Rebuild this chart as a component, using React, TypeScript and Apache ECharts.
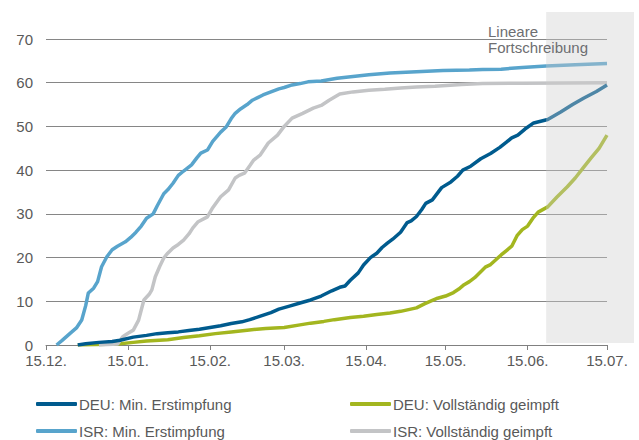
import React, { useEffect, useRef } from "react";
import * as echarts from "echarts";

// x values are days after 15.12.2020
const tickDays = [0, 31, 62, 90, 121, 151, 182, 212];
const tickLabels = ["15.12.", "15.01.", "15.02.", "15.03.", "15.04.", "15.05.", "15.06.", "15.07."];
const projectionStartDay = 189;

const seriesNames = [
  "DEU: Min. Erstimpfung",
  "ISR: Min. Erstimpfung",
  "DEU: Vollständig geimpft",
  "ISR: Vollständig geimpft",
];

const deuFirstDose: [number, number][] = [
  [12, 0], [15, 0.3], [20, 0.6], [25, 0.8], [28, 1.1], [33, 1.8], [38, 2.2], [42, 2.6], [46, 2.8],
  [50, 3.0], [54, 3.3], [58, 3.6], [62, 4.0], [66, 4.4], [70, 4.9], [74, 5.3], [77, 5.8], [81, 6.6],
  [85, 7.4], [88, 8.2], [92, 8.9], [96, 9.6], [100, 10.3], [104, 11.2], [108, 12.4], [111, 13.2],
  [113, 13.5], [115, 14.8], [118, 16.5], [120, 18.3], [122.6, 20], [125, 21], [127, 22.3], [129, 23.3],
  [131, 24.2], [134, 25.8], [136.5, 28.0], [138, 28.4], [140, 29.4], [142, 31], [143.5, 32.4], [146, 33.2],
  [148, 34.8], [149.5, 36], [153, 37.3], [155.5, 38.6], [157.5, 40], [160.5, 40.9], [164.3, 42.6],
  [168, 43.8], [171.5, 45.2], [174, 46.4], [176, 47.4], [178.3, 48], [181, 49.4], [184.3, 50.8],
  [189.6, 51.6], [194.5, 53.3], [199, 55], [203.3, 56.5], [208, 58], [212, 59.5],
];

const isrFirstDose: [number, number][] = [
  [4, 0], [6, 1.0], [9, 2.6], [11.5, 3.9], [13.5, 5.7], [15, 9], [16, 11.9], [18, 13], [19.5, 14.5],
  [21, 17.9], [23, 20.2], [25, 21.8], [27, 22.6], [30, 23.6], [32, 24.6], [34, 25.8], [36, 27.2],
  [38, 29], [40.5, 30], [42, 31.8], [44.5, 34.6], [46, 35.5], [48, 37], [50, 38.8], [52, 39.8],
  [55, 41.2], [57, 42.8], [58.5, 43.9], [61, 44.6], [63, 46.6], [66, 48.7], [68, 49.8], [70, 51.8],
  [71.5, 53], [73.5, 54], [76, 55], [78, 56], [80, 56.6], [82, 57.2], [85, 57.9], [88, 58.6],
  [90, 58.9], [93, 59.5], [96, 59.8], [99, 60.2], [104, 60.4], [110, 61], [116, 61.4], [122, 61.8],
  [130, 62.2], [140, 62.5], [150, 62.8], [160, 62.9], [165, 63], [172, 63.1], [180, 63.5],
  [189, 63.8], [200, 64.1], [212, 64.4],
];

const deuFull: [number, number][] = [
  [12, 0], [20, 0.1], [28, 0.3], [33, 0.6], [38, 0.9], [46, 1.2], [52, 1.7], [58, 2.1], [64, 2.6],
  [70, 3.0], [76, 3.4], [83, 3.8], [90, 4.0], [96, 4.6], [100, 5.0], [105, 5.4], [109, 5.8],
  [115, 6.3], [120, 6.6], [125, 7.0], [130, 7.3], [134, 7.7], [137, 8.1], [140, 8.5], [143, 9.4],
  [146, 10.2], [148, 10.7], [151, 11.2], [154, 12], [156, 12.8], [158, 13.8], [160, 14.5],
  [162, 15.4], [164, 16.6], [166, 17.8], [168, 18.4], [170, 19.5], [172, 20.6], [174, 21.6],
  [176, 22.6], [178, 25], [180, 26.4], [182, 27.2], [184, 29], [186, 30.4], [189.6, 31.6],
  [193, 33.8], [197, 36.2], [200, 38.2], [203, 40.5], [206, 42.8], [209, 45], [212, 48],
];

const isrFull: [number, number][] = [
  [20, 0], [27, 0.2], [29, 1.9], [31, 2.7], [33, 3.4], [35, 5.7], [36, 8], [37, 10.3], [39, 11.6],
  [40, 12.6], [41.3, 15.6], [43, 18], [44.5, 19.9], [46, 21], [48, 22.2], [50, 23], [52, 24],
  [54, 25.4], [55.5, 26.8], [57.5, 28.2], [61, 29.3], [63, 31.4], [66, 33.9], [69, 35.5],
  [71.5, 38.2], [73, 38.8], [75, 39.3], [77, 41], [78.5, 42.3], [81, 43.5], [84, 46.2],
  [87.5, 48], [90, 50], [93, 51.9], [97, 53], [101, 54.2], [104, 54.8], [107, 56], [111, 57.4],
  [116, 57.9], [122, 58.3], [128, 58.5], [134, 58.8], [140, 59], [147, 59.2], [157, 59.6],
  [165, 59.8], [180, 59.9], [212, 60],
];

const colors = ["#005b8e", "#58a4cc", "#a3b61f", "#c3c4c6"];
const seriesData = [deuFirstDose, isrFirstDose, deuFull, isrFull];

const FONT = "'Liberation Sans', Arial, sans-serif";
const TEXT = "#595959";

export default function App() {
  const ref = useRef<HTMLDivElement>(null);
  useEffect(() => {
    if (!ref.current) return;
    document.body.style.margin = "0";
    const chart = echarts.init(ref.current, undefined, { renderer: "svg" });
    const legendCommon = {
      orient: "vertical",
      top: 395,
      height: 80,
      itemWidth: 41,
      itemHeight: 4,
      itemGap: 9,
      icon: "roundRect",
      padding: 0,
      textStyle: { fontFamily: FONT, fontSize: 15, color: TEXT, lineHeight: 18, padding: [0, 0, 0, -3] },
    };
    chart.setOption({
      animation: false,
      color: colors,
      textStyle: { fontFamily: FONT },
      grid: { left: 46, right: 32, top: 39, bottom: 95, containLabel: false },
      legend: [
        { ...legendCommon, left: 36, data: [seriesNames[0], seriesNames[1]] },
        { ...legendCommon, left: 350, data: [seriesNames[2], seriesNames[3]] },
      ],
      xAxis: {
        type: "value",
        min: 0,
        max: 212,
        splitLine: { show: false },
        axisLine: { lineStyle: { color: "#808080", width: 1 } },
        axisTick: { show: true, length: 5, customValues: tickDays, lineStyle: { color: "#808080" } },
        axisLabel: {
          customValues: tickDays,
          formatter: (v: number) => {
            const i = tickDays.indexOf(Math.round(v));
            return i >= 0 ? tickLabels[i] : "";
          },
          color: TEXT,
          fontSize: 15,
          fontFamily: FONT,
          margin: 8,
        },
      },
      yAxis: {
        type: "value",
        min: 0,
        max: 70,
        interval: 10,
        axisLine: { show: false },
        axisTick: { show: false },
        splitLine: { lineStyle: { color: "#868686", width: 1 } },
        axisLabel: { color: TEXT, fontSize: 15, fontFamily: FONT, margin: 13 },
      },
      series: seriesData.map((d, i) => ({
        name: seriesNames[i],
        type: "line",
        data: d,
        showSymbol: false,
        symbol: "none",
        lineStyle: { width: 3.5, color: colors[i] },
        itemStyle: { color: colors[i] },
        z: i === 0 ? 5 : 3,
      })),
    });
    const x0 = chart.convertToPixel({ xAxisIndex: 0 }, projectionStartDay) as number;
    const xEnd = chart.convertToPixel({ xAxisIndex: 0 }, 212) as number;
    const yBottom = chart.convertToPixel({ yAxisIndex: 0 }, 0) as number;
    const yTop = chart.convertToPixel({ yAxisIndex: 0 }, 70) as number;
    chart.setOption({
      graphic: [
        {
          type: "rect",
          z: 100,
          shape: { x: x0, y: yTop - 27, width: xEnd + 27 - x0, height: yBottom - 2 - (yTop - 27) },
          style: { fill: "rgba(205,205,205,0.38)" },
          silent: true,
        },
        {
          type: "text",
          z: 101,
          x: 488,
          y: yTop - 16,
          style: {
            text: "Lineare\nFortschreibung",
            font: `15px ${FONT}`,
            fill: "#6d6e71",
            lineHeight: 16,
            verticalAlign: "top",
          },
        },
      ],
    });
    return () => chart.dispose();
  }, []);
  return <div ref={ref} style={{ width: 639, height: 440 }} />;
}
